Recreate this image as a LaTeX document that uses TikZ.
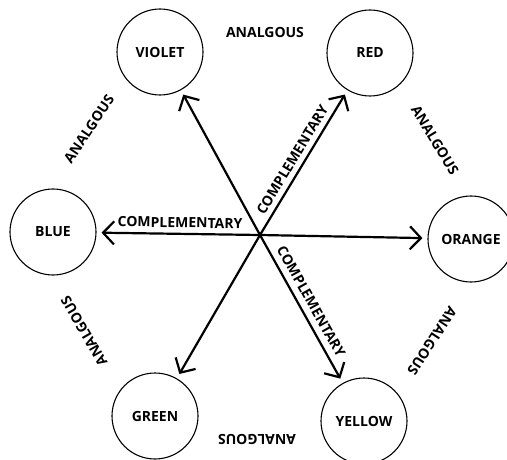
\documentclass[tikz,border=0pt]{standalone}
\usepackage{fontspec}
\setmainfont{Open Sans}
\usetikzlibrary{arrows.meta}

\begin{document}
\begin{tikzpicture}[x=1pt,y=-1pt,
    hue/.style={draw, line width=1.1pt, circle, minimum size=86pt, inner sep=0pt, font=\bfseries\fontsize{14}{16}\selectfont},
    pair/.style={line width=2.2pt, shorten >=5pt, -{Straight Barb[length=11pt,width=23pt,line width=2.2pt]}},
    tag/.style={font=\bfseries\fontsize{14}{16}\selectfont, inner sep=1pt}]

    \useasboundingbox (0,0) rectangle (507,460);

    \node (violet) [hue] at (160,52) {VIOLET};
    \node (red) [hue] at (370,53) {RED};
    \node (orange) [hue] at (471,239) {ORANGE};
    \node (yellow) [hue] at (364,421) {YELLOW};
    \node (green) [hue] at (155,416) {GREEN};
    \node (blue) [hue] at (53,232) {BLUE};
    \coordinate (hub) at (260,235);

    \draw[pair] (hub) -- (violet);
    \draw[pair] (hub) -- node[tag, sloped, above=4pt, pos=0.48]{COMPLEMENTARY}(red);
    \draw[pair] (hub) -- (orange);
    \draw[pair] (hub) -- node[tag, sloped, above=5pt, pos=0.49]{COMPLEMENTARY}(yellow);
    \draw[pair] (hub) -- (green);
    \draw[pair] (hub) -- node[tag, sloped, above=4pt, pos=0.49]{COMPLEMENTARY}(blue);

    \foreach \n/\ang/\where in {vr/0/{(265,32)}, ro/-59/{(435,140)}, oy/237/{(432,341)},
        yg/180/{(257,440)}, gb/120/{(84,331)}, bv/56/{(89,129)}}
    \node (ana\n) [tag, rotate=\ang] at \where {ANALGOUS};

\end{tikzpicture}
\end{document}
